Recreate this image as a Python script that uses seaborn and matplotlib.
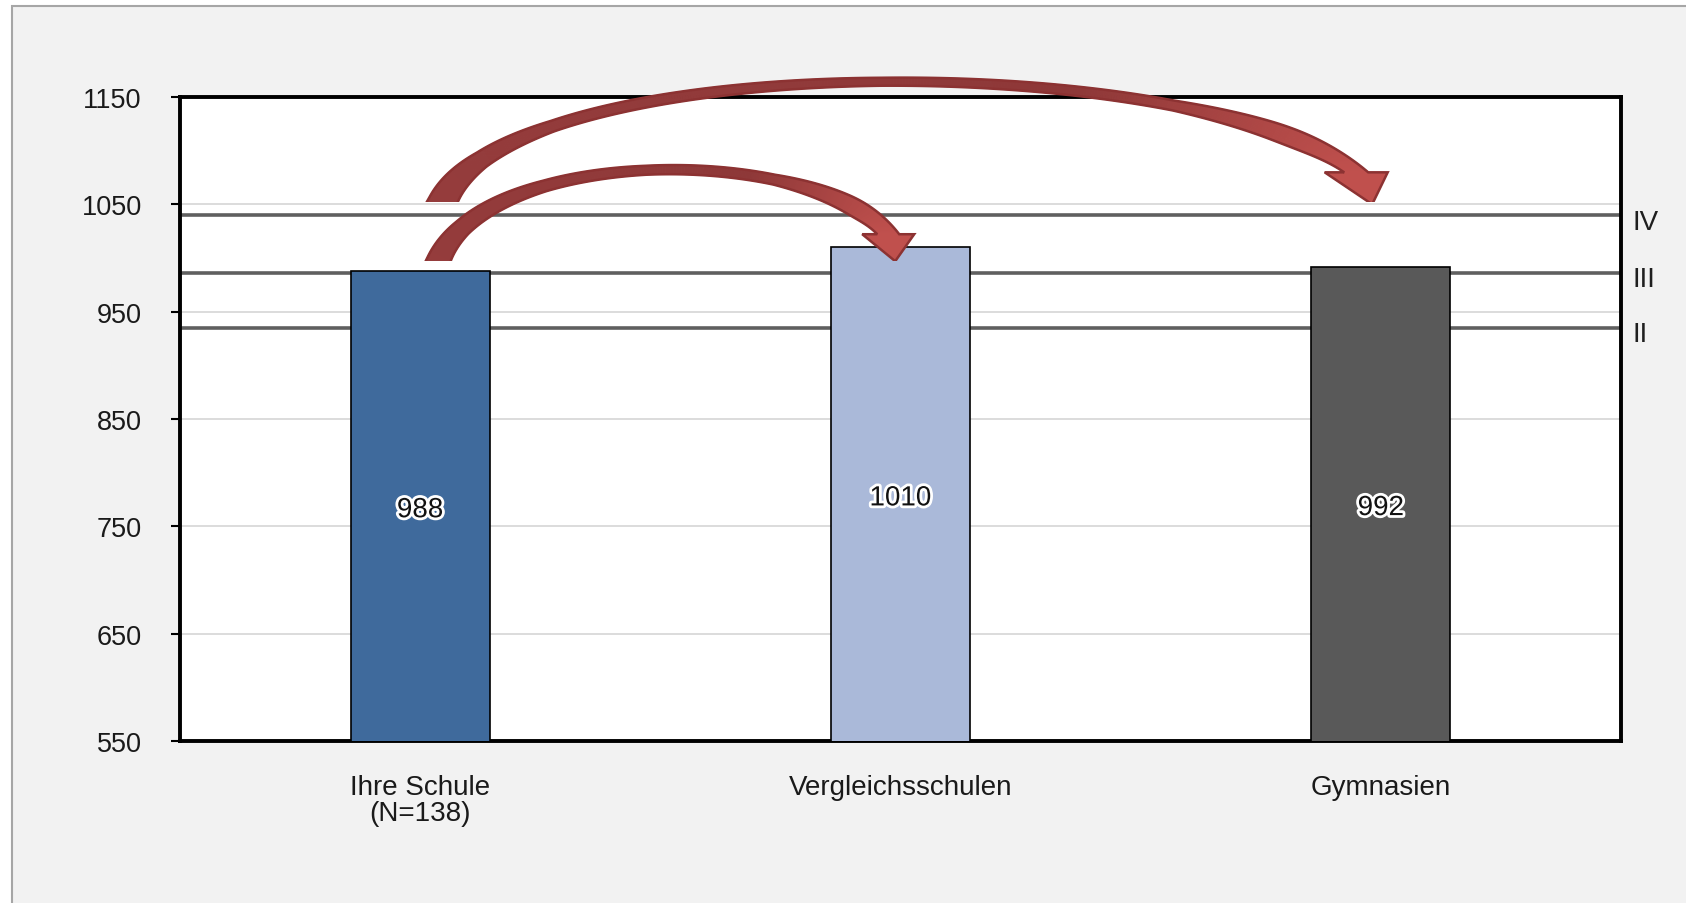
import numpy as np
import pandas as pd
import matplotlib
matplotlib.use("Agg")
import matplotlib.pyplot as plt
import matplotlib.patheffects as pe
from matplotlib.colors import to_rgb
from matplotlib.patches import Polygon, Rectangle
from matplotlib.transforms import IdentityTransform
import seaborn as sns

# data
schools = ["Ihre Schule\n(N=138)", "Vergleichsschulen", "Gymnasien"]
scores = [988, 1010, 992]
bar_colors = ["#3f6a9c", "#aab9d9", "#595959"]

level_names = ["IV", "III", "II"]
level_values = [1040, 986, 935]

y_ticks = [550, 650, 750, 850, 950, 1050, 1150]

# curved arrows: start, tip and top of the bow (x in category units, y in score)
arrow_starts = [(0.038, 997), (0.047, 1052)]
arrow_tips = [(0.989, 997), (1.982, 1050)]
arrow_peaks = [1082, 1164]

# arrow shape (angles in degrees, sizes in pixels)
arrow_angles = [(68, 50), (66, 38)]
head_sizes = [(52, 27, 7), (63, 32, 16)]   # base width, length, tip shift
arrow_widths = [
    [(0, 26), (0.12, 17), (0.3, 11), (0.5, 9), (0.75, 10), (1.0, 22)],
    [(0, 32), (0.08, 17), (0.16, 11), (0.5, 8), (0.8, 10), (1.0, 24)],
]


def curved_arrow(ax, start, tip, peak, ang0, ang1, head, widths):
    head_w, head_len, shift = head
    to_px = ax.transData.transform
    p0 = to_px(start)
    tip_px = to_px(tip)
    hnrm = np.array([1.0, 0.0])
    p3 = tip_px + np.array([-shift, head_len])
    peak_px = to_px((0, peak))[1]
    yc = (8 * peak_px - p0[1] - p3[1]) / 6
    a0, a1 = np.radians(ang0), np.radians(ang1)
    d0 = np.array([np.cos(a0), np.sin(a0)])
    p1 = np.array([p0[0] + (yc - p0[1]) / np.tan(a0), yc])
    p2 = np.array([p3[0] - (yc - p3[1]) / np.tan(a1), yc])
    t = np.linspace(0, 1, 400)[:, None]
    pts = ((1 - t) ** 3 * p0 + 3 * (1 - t) ** 2 * t * p1
           + 3 * (1 - t) * t ** 2 * p2 + t ** 3 * p3)
    pts = np.vstack([p0 - d0 * 20, pts])
    s = np.concatenate([[0], np.cumsum(np.hypot(*np.diff(pts, axis=0).T))])
    u = s / s[-1]
    d = np.gradient(pts, axis=0)
    d /= np.hypot(d[:, 0], d[:, 1])[:, None]
    nrm = np.column_stack([-d[:, 1], d[:, 0]])
    blend = np.clip((u - 0.9) / 0.1, 0, 1)[:, None]
    nrm = nrm * (1 - blend) + hnrm * blend
    nrm /= np.hypot(nrm[:, 0], nrm[:, 1])[:, None]
    wu, ww = zip(*widths)
    w = np.interp(u, wu, ww)[:, None]
    left = pts + nrm * w / 2
    right = pts - nrm * w / 2
    hl = p3 + hnrm * head_w / 2
    hr = p3 - hnrm * head_w / 2

    clip = Polygon([[-10, p0[1]], [5000, p0[1]], [5000, 5000], [-10, 5000]],
                   closed=True, transform=IdentityTransform())
    stops = [0, 0.7, 1.0]
    cols = np.array([to_rgb("#953c3c"), to_rgb("#8e3838"), to_rgb("#c0504d")])
    parts = []
    for i in range(len(pts) - 1):
        col = [np.interp(u[i], stops, cols[:, k]) for k in range(3)]
        quad = [left[i], left[i + 1], right[i + 1], right[i]]
        parts.append(Polygon(quad, closed=True, fc=col, ec=col, lw=0.8,
                             transform=IdentityTransform(), zorder=6))
    parts.append(Polygon([hl, tip_px, hr], closed=True, fc="#c0504d", ec="#c0504d",
                         lw=0.8, transform=IdentityTransform(), zorder=6))
    parts.append(Polygon(np.vstack([left, [hl, tip_px, hr], right[::-1]]),
                         closed=True, fill=False, ec="#8c3232", lw=1.8,
                         joinstyle="miter", transform=IdentityTransform(), zorder=7))
    for p in parts:
        p.set_clip_path(clip)
        ax.add_patch(p)


sns.set_theme(style="white")
plt.rcParams["font.family"] = ["Liberation Sans", "DejaVu Sans"]

df = pd.DataFrame({"school": schools, "score": scores})

W, H = 1686, 904
fig = plt.figure(figsize=(W / 100, H / 100), dpi=100)
fig.patch.set_facecolor("white")
fig.add_artist(Rectangle((12 / W, -0.05), 1.1, 1 - 7 / H + 0.05,
                         transform=fig.transFigure, fc="#f2f2f2",
                         ec="#a6a6a6", lw=1.5, zorder=-10))

ax = fig.add_axes([180 / W, 1 - 742 / H, 1441 / W, 644 / H])
ax.set_facecolor("white")

sns.barplot(data=df, x="school", y="score", hue="school", palette=bar_colors,
            saturation=1, width=0.29, edgecolor="black", linewidth=1.2,
            legend=False, ax=ax, zorder=3)

ax.set_ylim(550, 1150)
ax.set_xlim(-0.5, 2.5)
ax.set_yticks(y_ticks)
ax.yaxis.grid(True, color="#d9d9d9", linewidth=1.3)
ax.xaxis.grid(False)
ax.set_axisbelow(True)
ax.set_xlabel("")
ax.set_ylabel("")

for v in level_values:
    ax.axhline(v, color="#5f5f5f", lw=2.6, zorder=2)
for name, v in zip(level_names, level_values):
    ax.text(1.008, v - 6, name, transform=ax.get_yaxis_transform(),
            ha="left", va="center", fontsize=20, color="#1f1f1f")

for i, v in enumerate(scores):
    ax.text(i, (550 + v) / 2 - 4, str(v), ha="center", va="center", fontsize=20,
            color="#111111", zorder=5,
            path_effects=[pe.withStroke(linewidth=4, foreground="white")])

for side in ax.spines.values():
    side.set_visible(True)
    side.set_color("black")
    side.set_linewidth(2.8)

ax.tick_params(axis="y", direction="out", length=6.5, width=1.5, color="black",
               labelsize=19.5, labelcolor="#1a1a1a", pad=21, left=True)
ax.tick_params(axis="x", length=0, labelsize=20, labelcolor="#1a1a1a", pad=24)
for lbl in ax.get_xticklabels():
    lbl.set_linespacing(1.0)

for k in range(len(arrow_starts)):
    g0, g1 = arrow_angles[k]
    curved_arrow(ax, arrow_starts[k], arrow_tips[k], arrow_peaks[k], g0, g1,
                 head_sizes[k], arrow_widths[k])

fig.savefig("out.png", dpi=100)
